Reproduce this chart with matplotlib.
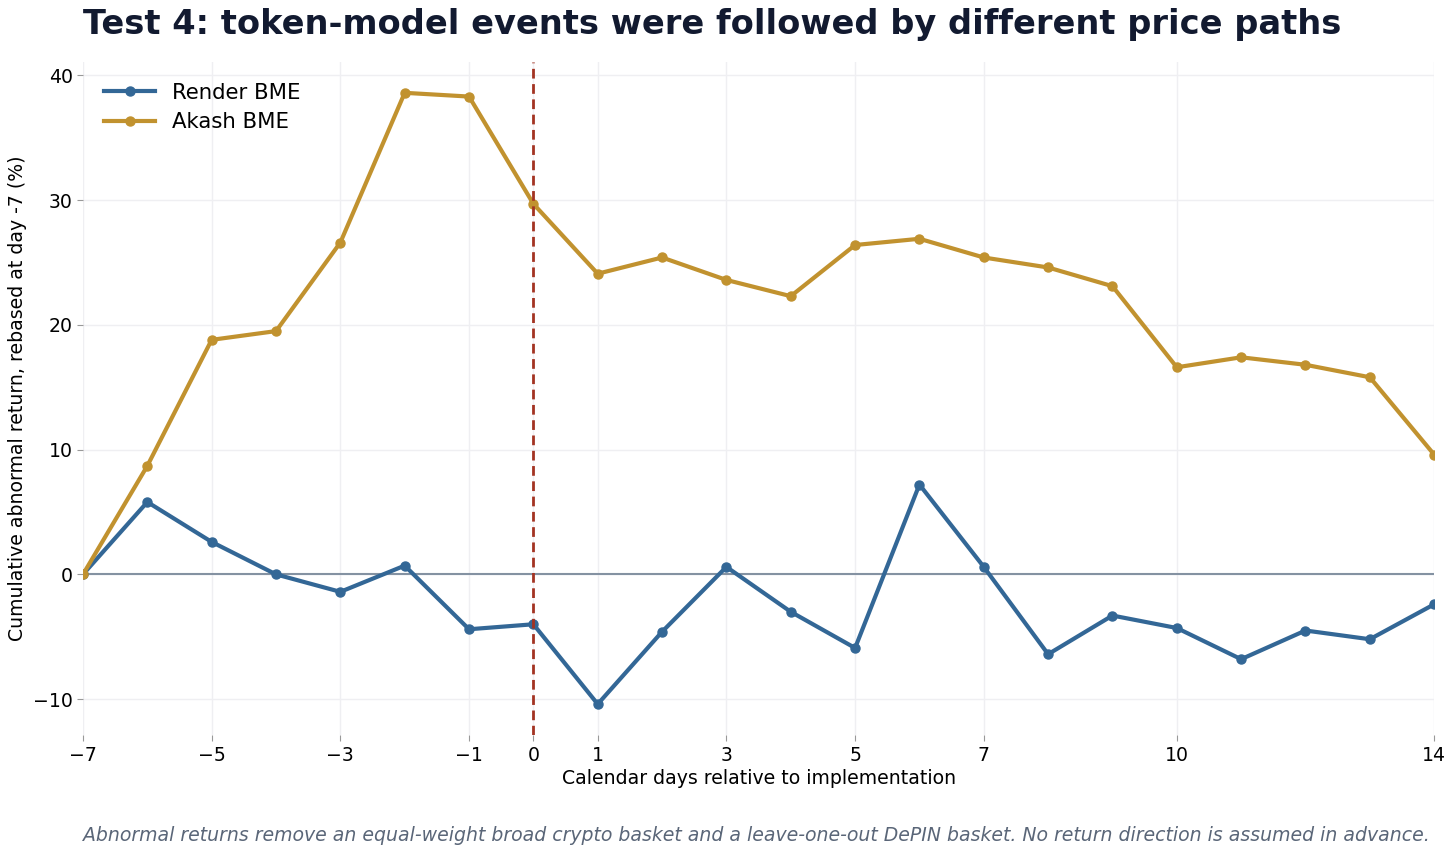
import matplotlib.pyplot as plt

days = list(range(-7, 15))
render = [0, 5.8, 2.6, 0.0, -1.4, 0.7, -4.4, -4.0, -10.4, -4.6, 0.6, -3.0,
          -5.9, 7.2, 0.6, -6.4, -3.3, -4.3, -6.8, -4.5, -5.2, -2.4]
akash = [0, 8.7, 18.8, 19.5, 26.6, 38.6, 38.3, 29.7, 24.1, 25.4, 23.6, 22.3,
         26.4, 26.9, 25.4, 24.6, 23.1, 16.6, 17.4, 16.8, 15.8, 9.6]
xticks = [-7, -5, -3, -1, 0, 1, 3, 5, 7, 10, 14]
yticks = [-10, 0, 10, 20, 30, 40]

fig = plt.figure(figsize=(14.56, 8.56), dpi=100)
ax = fig.add_axes([0.057, 0.141, 0.928, 0.787])

ax.plot(days, render, color="#336796", lw=3, marker="o", ms=6.5, label="Render BME", zorder=3)
ax.plot(days, akash, color="#c1922f", lw=3, marker="o", ms=6.5, label="Akash BME", zorder=3)
ax.axhline(0, color="#8492a2", lw=1.5, zorder=2)
ax.axvline(0, color="#a33322", lw=2, ls=(0, (3.5, 2)), zorder=4)

ax.set_xlim(-7, 14)
ax.set_ylim(-12.9, 41.1)
ax.set_xticks(xticks)
ax.set_yticks(yticks)
ax.grid(True, color="#efeff2", lw=1)
ax.set_axisbelow(True)
for s in ax.spines.values():
    s.set_visible(False)
ax.tick_params(labelsize=13.6, color="#999999", length=4)

ax.set_xlabel("Calendar days relative to implementation", fontsize=13.6, labelpad=3)
ax.set_ylabel("Cumulative abnormal return, rebased at day -7 (%)", fontsize=13.6)
ax.legend(loc="upper left", frameon=False, fontsize=15.3, handlelength=2.4,
          borderaxespad=0.6, labelspacing=0.45)

fig.text(0.057, 0.971, "Test 4: token-model events were followed by different price paths",
         fontsize=24.2, fontweight="bold", color="#121a30", va="center", ha="left")
fig.text(0.982, 0.024, "Abnormal returns remove an equal-weight broad crypto basket and a leave-one-out DePIN basket. No return direction is assumed in advance.",
         fontsize=13.6, style="italic", color="#5a6678", ha="right", va="center")

fig.savefig("out.png", dpi=100)
